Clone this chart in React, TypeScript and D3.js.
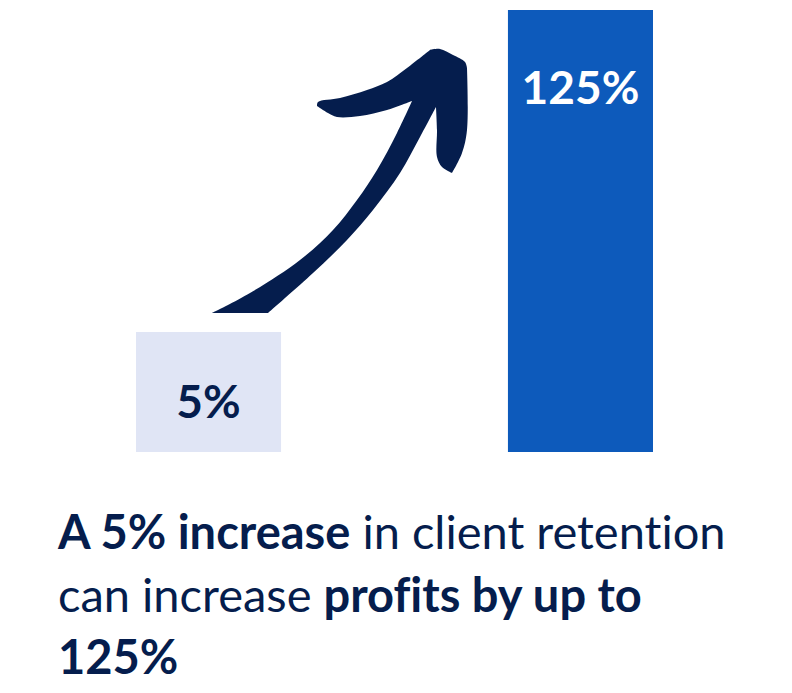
import React from "react";
import * as d3 from "d3";

const categories = ["Client retention", "Profits"];
const values = [5, 125];
const valueLabels = ["5%", "125%"];
const barColors = ["#e0e5f5", "#0d5abb"];
const labelColors = ["#051d4d", "#ffffff"];

// Hand-drawn arrow outline, split at its sharp corners
const arrowSegments: [number, number][][] = [
  [[212, 313], [250, 293], [300, 260], [333, 230], [357, 200], [377, 170], [397, 133], [412, 101]],
  [[412, 101], [387, 110], [360, 116], [337, 117], [328, 113], [317, 106]],
  [[317, 106], [318, 102], [340, 98], [367, 90], [387, 82], [407, 68], [430, 50]],
  [[430, 50], [440, 49], [453, 55], [465, 62], [467, 68]],
  [[467, 68], [467, 130], [462, 153], [452, 173]],
  [[452, 173], [442, 167], [437, 157], [437, 130], [436, 107]],
  [[436, 107], [420, 137], [400, 173], [373, 210], [347, 240], [313, 273], [268, 313]],
];

const titleLines = [
  [["A 5% increase", true], [" in client retention", false]],
  [["can increase ", false], ["profits by up to", true]],
  [["125%", true]],
] as [string, boolean][][];

const ink = "#051d4d";

export default function App() {
  const x = d3.scaleBand<string>().domain(categories).range([136, 653]).paddingInner(0.61);
  const h = d3.scaleLinear().domain([5, 125]).range([120, 442]);
  const baseY = 452;
  const seg = d3.line().curve(d3.curveCatmullRom);
  const arrow = arrowSegments
    .map((s, i) => {
      const d = seg(s) ?? "";
      return i === 0 ? d : d.replace(/^M[^A-Za-z]+/, "");
    })
    .join("") + "Z";
  const labelY = [418, 104];
  const baselines = [549, 612, 674];
  return (
    <svg width={792} height={693} style={{ position: "absolute", left: 0, top: 0, background: "#fff", fontVariantLigatures: "none" }} fontFamily="Lato">
      {categories.map((c, i) => (
        <g key={c}>
          <rect x={x(c)} y={baseY - h(values[i])} width={x.bandwidth()} height={h(values[i])} fill={barColors[i]} />
          <text x={x(c)! + x.bandwidth() / 2} y={labelY[i]} textAnchor="middle" fontSize={46} fontWeight={700} fill={labelColors[i]}>
            {valueLabels[i]}
          </text>
        </g>
      ))}
      <path d={arrow} fill={ink} />
      {titleLines.map((line, i) => (
        <text key={i} x={58} y={baselines[i]} fontSize={47} fill={ink} xmlSpace="preserve">
          {line.map(([t, b], j) => (
            <tspan key={j} fontWeight={b ? 700 : 400}>{t}</tspan>
          ))}
        </text>
      ))}
    </svg>
  );
}
